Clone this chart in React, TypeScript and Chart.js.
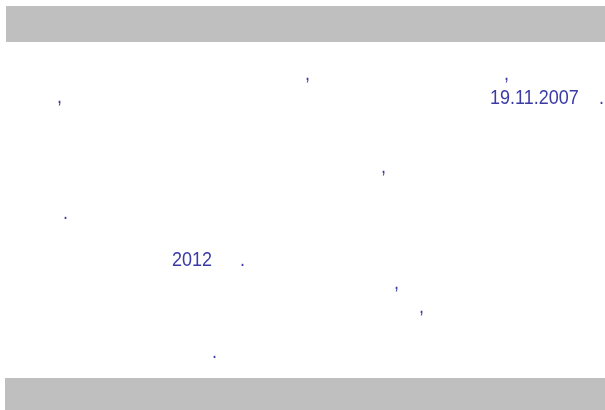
import React, { useEffect, useRef } from "react";
import { Chart, registerables } from "chart.js";

Chart.register(...registerables);

// Visible text fragments (the page's other glyphs did not render in the reference)
const textItems = [",", ",", ",", "19.11.2007", ".", ",", ".", "2012", ".", ",", ",", "."];
const textX = [305, 504, 57, 490, 599, 381, 63, 172, 240, 394, 419, 212];
const textY = [80, 80, 103, 104, 104, 173, 219, 266, 266, 289, 313, 358];

// Grey bands (header and footer)
const bandStart = [6, 5];
const bandTop = [6, 378];
const bandBottom = [42, 410];

const TEXT_COLOR = "#3b3ba6";
const BAND_COLOR = "#bfbfbf";

const pagePlugin = {
  id: "pagePlugin",
  beforeDatasetsDraw(chart: any) {
    const { ctx, scales } = chart;
    const xs = scales.x;
    const ys = scales.y;
    ctx.save();
    ctx.fillStyle = BAND_COLOR;
    for (let i = 0; i < bandTop.length; i++) {
      const x0 = xs.getPixelForValue(bandStart[i]);
      const x1 = xs.getPixelForValue(605);
      const y0 = ys.getPixelForValue(bandTop[i]);
      const y1 = ys.getPixelForValue(bandBottom[i]);
      ctx.fillRect(x0, y0, x1 - x0, y1 - y0);
    }
    ctx.restore();
  },
  afterDatasetsDraw(chart: any) {
    const { ctx } = chart;
    const meta = chart.getDatasetMeta(0);
    ctx.save();
    ctx.fillStyle = TEXT_COLOR;
    ctx.font = '18px "Liberation Sans", Arial, sans-serif';
    ctx.textBaseline = "alphabetic";
    ctx.textAlign = "left";
    meta.data.forEach((pt: any, i: number) => {
      ctx.save();
      ctx.translate(pt.x, pt.y);
      ctx.scale(1, 1.12);
      ctx.fillText(textItems[i], 0, 0);
      ctx.restore();
    });
    ctx.restore();
  },
};

export default function App() {
  const ref = useRef<HTMLCanvasElement | null>(null);
  useEffect(() => {
    document.body.style.margin = "0";
    document.body.style.background = "#ffffff";
    const chart = new Chart(ref.current as HTMLCanvasElement, {
      type: "scatter",
      data: {
        datasets: [
          {
            data: textItems.map((_, i) => ({ x: textX[i], y: textY[i] })),
            pointRadius: 0,
            pointHoverRadius: 0,
          },
        ],
      },
      options: {
        animation: false,
        responsive: false,
        devicePixelRatio: 1,
        layout: { padding: 0 },
        plugins: { legend: { display: false }, tooltip: { enabled: false }, title: { display: false } },
        events: [],
        scales: {
          x: { type: "linear", min: 0, max: 605, display: false },
          y: { type: "linear", min: 0, max: 410, reverse: true, display: false },
        },
      },
      plugins: [pagePlugin],
    });
    return () => chart.destroy();
  }, []);
  return (
    <div style={{ position: "absolute", left: 0, top: 0, width: 605, height: 410, background: "#fff" }}>
      <canvas ref={ref} width={605} height={410} style={{ display: "block" }} />
    </div>
  );
}
